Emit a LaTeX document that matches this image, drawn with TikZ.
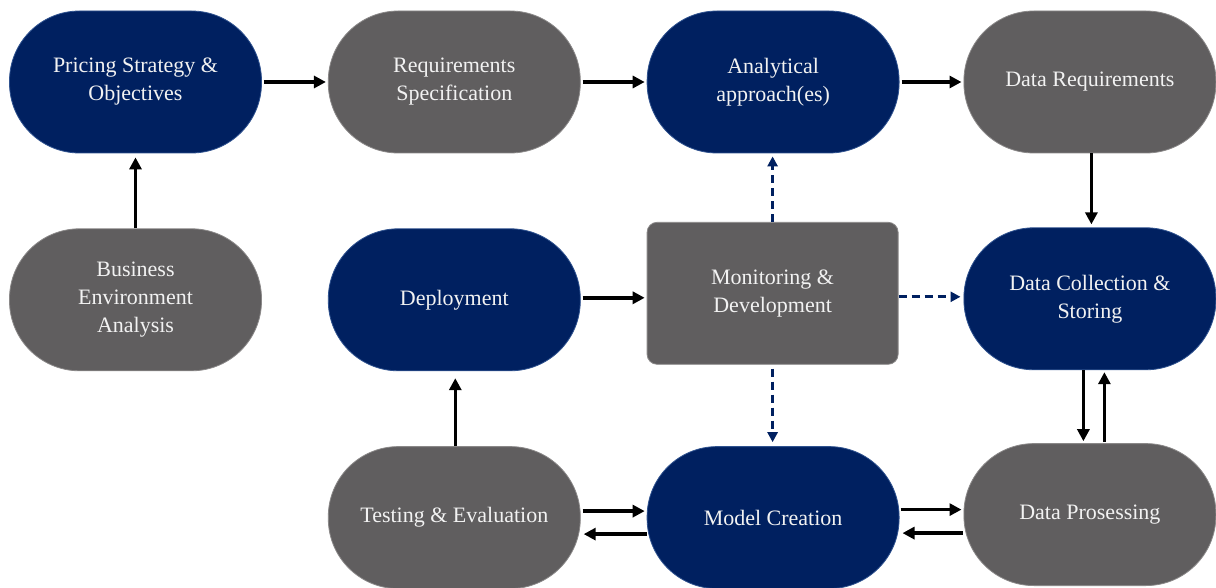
\documentclass[tikz,border=0pt]{standalone}
\usepackage{fontspec}
\setmainfont{Liberation Serif}
\usetikzlibrary{positioning,arrows.meta}

\definecolor{navy}{HTML}{002060}
\definecolor{navyline}{HTML}{2F528F}
\definecolor{slate}{HTML}{605E5F}
\definecolor{slateline}{HTML}{8A8888}

\tikzset{
  box/.style={rectangle, minimum width=252pt, minimum height=142pt,
    align=center, text=white!95!black, line width=0.8pt,
    font=\fontsize{22}{28}\selectfont},
  stage/.style={box, rounded corners=70pt},
  bluestage/.style={stage, fill=navy, draw=navyline},
  greystage/.style={stage, fill=slate, draw=slateline},
  flow/.style={line width=3.4pt, -{Triangle[length=12pt,width=12pt]}},
  feedback/.style={navy, line width=3pt, dash pattern=on 8pt off 5pt,
    -{Triangle[length=10pt,width=10pt]}}
}

\begin{document}
\begin{tikzpicture}[x=1pt,y=-1pt]
\useasboundingbox (0,0) rectangle (1216,588);

\node[bluestage](pso) at (135.5,82){Pricing Strategy \&\\Objectives};
\node[greystage, right=66pt of pso](rs){Requirements\\Specification};
\node[bluestage, right=66pt of rs](aa){Analytical\\approach(es)};
\node[greystage, right=64pt of aa](dr){Data Requirements};

\node[greystage, below=75pt of pso](bea){Business\\Environment\\Analysis};
\node[bluestage, below=75pt of rs](dep){Deployment};
\node[box, fill=slate, draw=slateline, rounded corners=10pt,
  minimum width=251pt, right=66pt of dep, yshift=6.5pt](md){Monitoring \&\\Development};
\node[bluestage, below=74pt of dr](dcs){Data Collection \&\\Storing};

\node[greystage, below=75pt of dep](te){Testing \& Evaluation};
\node[bluestage, right=66pt of te](mc){Model Creation};
\node[greystage, right=64pt of mc, yshift=3pt](dp){Data Prosessing};

% main flow
\draw[flow, shorten <=2pt, shorten >=2pt] (pso) -- (rs);
\draw[flow, shorten <=2pt, shorten >=2pt] (rs) -- (aa);
\draw[flow, shorten <=2pt, shorten >=2pt] (aa) -- (dr);
\draw[flow, shorten >=3pt] ([xshift=1.5pt]dr.south) -- ([xshift=1.5pt]dcs.north);
\draw[flow, shorten >=4pt] (bea) -- (pso);
\draw[flow, shorten <=2pt, shorten >=2pt] ([yshift=2pt]dep.east) -- ([yshift=2pt]dep.east -| md.west);
\draw[flow, shorten >=7pt] ([xshift=1pt]te.north) -- ([xshift=1pt]dep.south);

% back and forth
\draw[flow, shorten >=2pt] ([xshift=-6.5pt]dcs.south) -- ([xshift=-6.5pt]dcs.south |- dp.north);
\draw[flow, shorten <=1pt, shorten >=2pt] ([xshift=14.5pt]dp.north) -- ([xshift=14.5pt]dcs.south);
\draw[flow, shorten <=1pt, shorten >=2pt] ([yshift=8pt]mc.east) -- ([yshift=8pt]mc.east -| dp.west);
\draw[flow, shorten <=1pt, shorten >=3pt] ([yshift=-18.5pt]dp.west) -- ([yshift=-18.5pt]dp.west -| mc.east);
\draw[flow, shorten <=2pt, shorten >=2pt] ([yshift=6.5pt]te.east) -- ([yshift=6.5pt]te.east -| mc.west);
\draw[flow, shorten >=3pt] ([yshift=-16.5pt]mc.west) -- ([yshift=-16.5pt]te.east);

% monitoring feedback
\draw[feedback, shorten >=3pt] (md.north) -- (md.north |- aa.south);
\draw[feedback, shorten >=3pt] ([yshift=-3.5pt]md.east) -- ([yshift=-3.5pt]md.east -| dcs.west);
\draw[feedback, shorten <=4pt, shorten >=4pt] (md.south) -- (md.south |- mc.north);
\end{tikzpicture}
\end{document}
